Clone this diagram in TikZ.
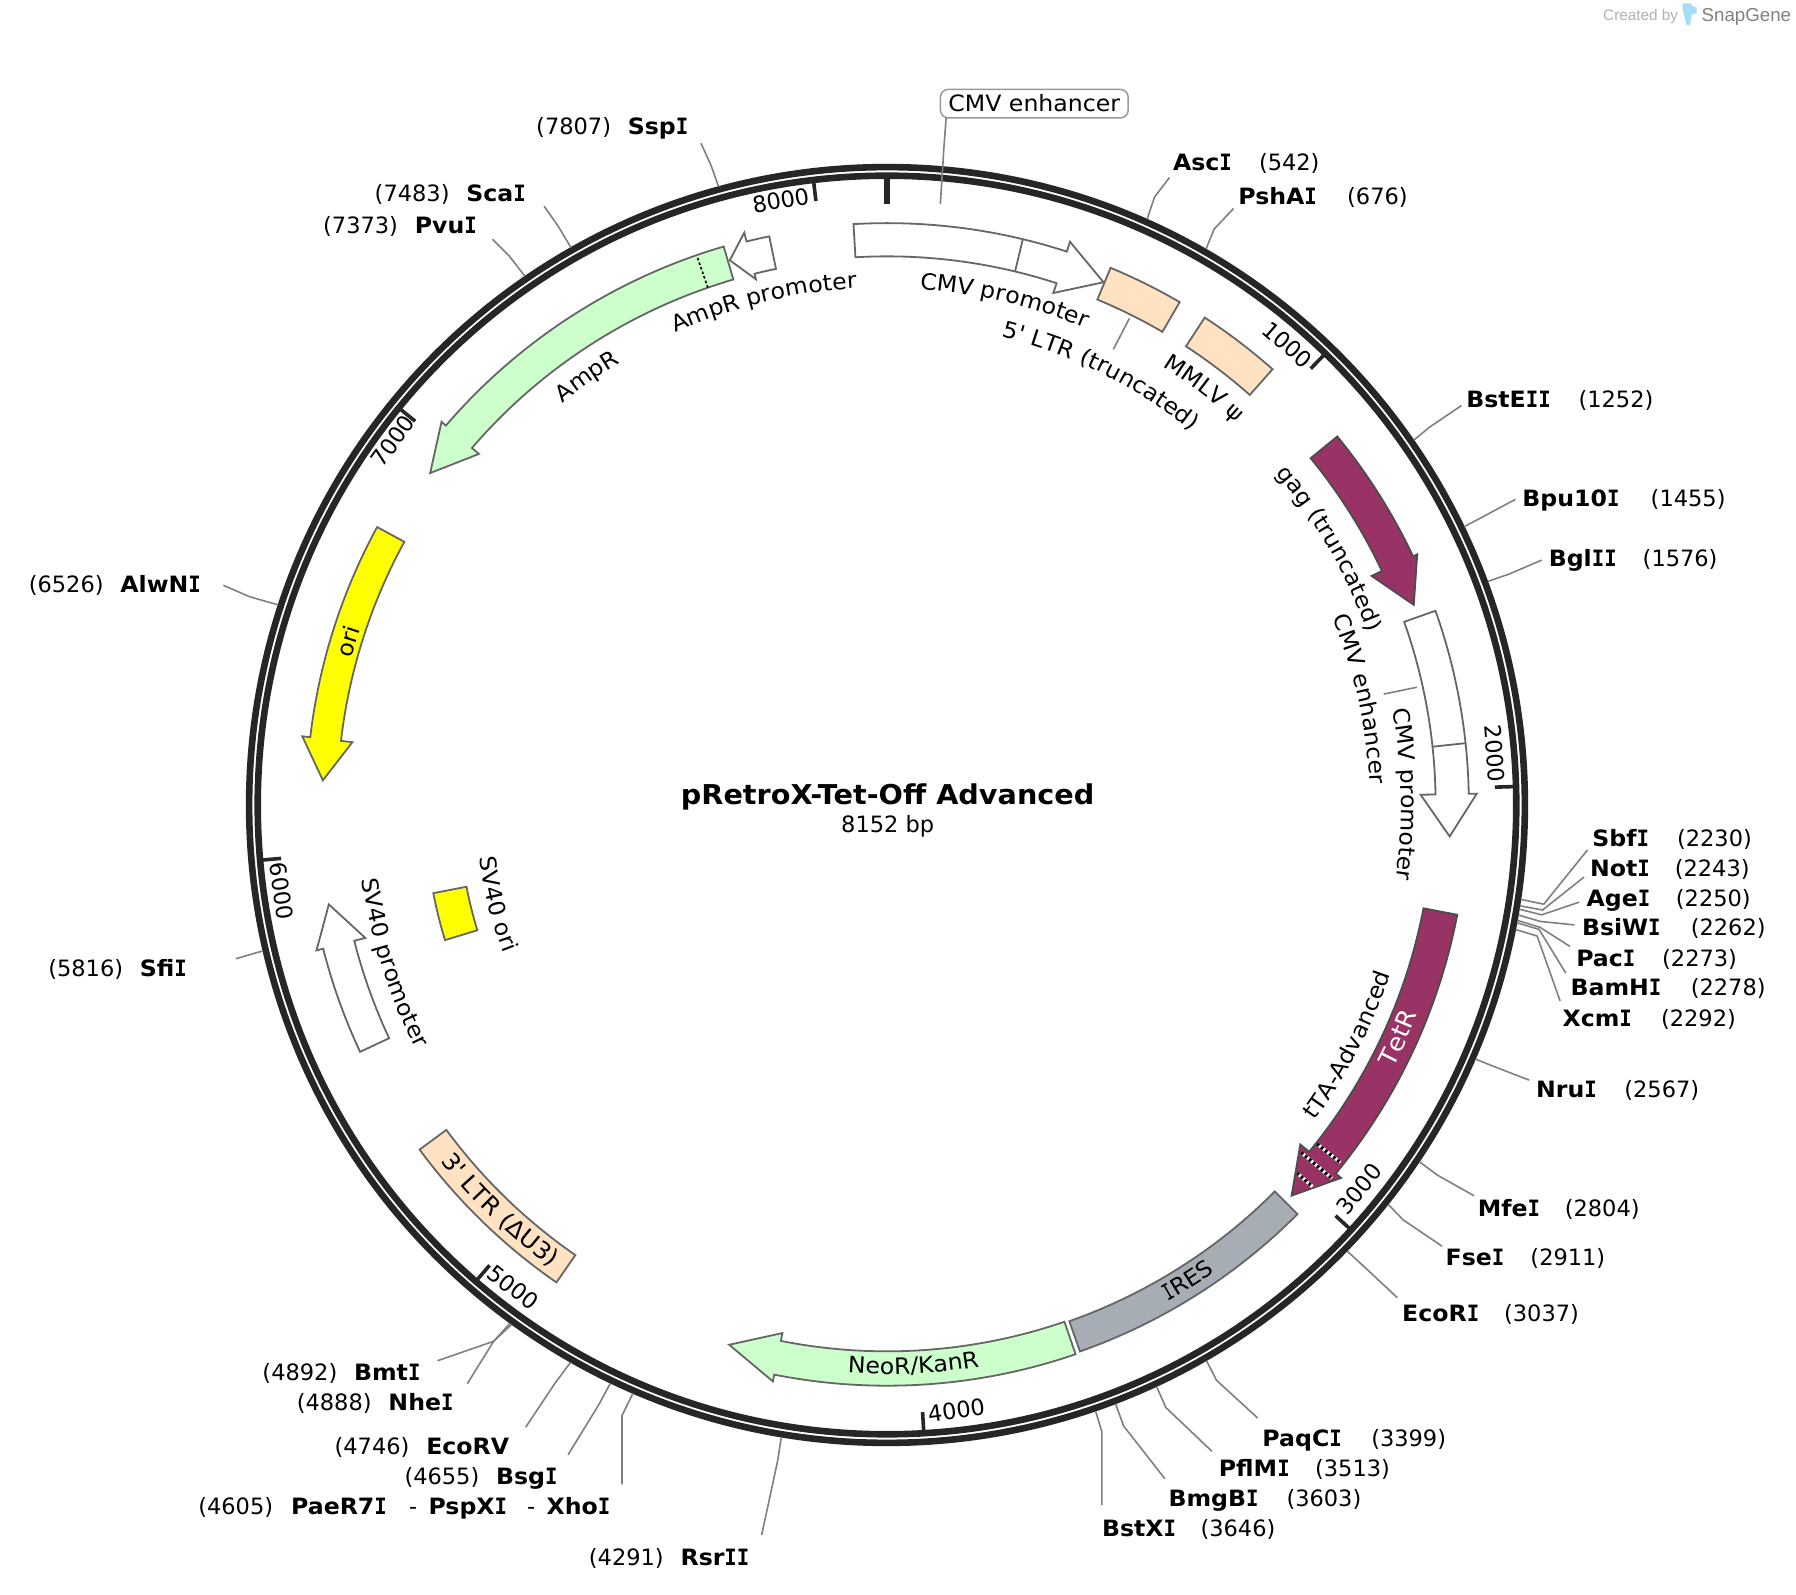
\documentclass[tikz,border=0pt]{standalone}
\usepackage{fontspec}
\usetikzlibrary{decorations.text}
\newfontfamily\tf{DejaVu Sans}
\newfontfamily\tfw{DejaVu Sans}[FakeStretch=1.05]
\newfontfamily\bmono{DejaVu Sans Mono}[FakeStretch=0.92]
\newfontfamily\rmono{DejaVu Sans Mono}[FakeStretch=0.72]
\newfontfamily\lf{Liberation Sans}
\newcommand\labfont{\tfw\fontsize{22.5}{27}\selectfont}
\newcommand\Ib{{\bmono\bfseries I}}
\definecolor{magen}{HTML}{993366}
\definecolor{grn}{HTML}{CCFFCC}
\definecolor{peach}{HTML}{FFE2C2}
\definecolor{irescol}{HTML}{A6ADB4}
\definecolor{ring}{HTML}{262626}
\definecolor{yel}{rgb}{1,1,0}
\definecolor{logo}{HTML}{A5DCF9}
\tikzset{
  disp/.style={shift={(-774.4,702.8)},yscale=-1},
  lab/.style={font=\tf\fontsize{22.5}{27}\selectfont,inner sep=0pt,text height=18pt,text depth=1.6pt},
  wlab/.style={lab,font=\labfont},
  blab/.style={lab,font=\tfw\bfseries\fontsize{22.5}{27}\selectfont},
  leader/.style={draw=black!50,line width=1.6pt},
  fwhite/.style={draw=black!60,line width=1.8pt,fill=white,line join=miter},
  fgreen/.style={fwhite,fill=grn},
  fpeach/.style={fwhite,fill=peach},
  fyellow/.style={fwhite,fill=yel},
  fgrey/.style={fwhite,fill=irescol},
  fmag/.style={draw=black!70,line width=1.8pt,fill=magen},
  sep/.style={draw=black!60,line width=1.8pt},
  tickmark/.style={draw=ring,line width=3.6pt},
  band/.style={line width=3.4pt}
}
% rectangle on the arc: style, angle0, angle1, r inner, r outer
\newcommand\featrect[5]{\draw[#1] ({90-(#2)}:#5) arc[start angle={90-(#2)},end angle={90-(#3)},radius=#5] -- ({90-(#3)}:#4) arc[start angle={90-(#3)},end angle={90-(#2)},radius=#4] -- cycle;}
% arrow on the arc: style, angle0, head base angle, tip angle, r in, r out, flare out, flare in, r tip
\newcommand\featarrow[9]{\draw[#1] ({90-(#2)}:#6) arc[start angle={90-(#2)},end angle={90-(#3)},radius=#6] -- ({90-(#3)}:#7) -- ({90-(#4)}:#9) -- ({90-(#3)}:#8) -- ({90-(#3)}:#5) arc[start angle={90-(#3)},end angle={90-(#2)},radius=#5] -- cycle;}
\newcommand\radial[4]{\draw[#1] ({90-(#2)}:#3) -- ({90-(#2)}:#4);}
% text on an arc, reading clockwise or counter-clockwise: centre angle, baseline radius, text
\newcommand\cwtext[3]{\path[decorate,decoration={text along path,text align=center,text={#3}}] ({90-(#1)+40}:#2) arc[start angle={90-(#1)+40},end angle={90-(#1)-40},radius=#2];}
\newcommand\ccwtext[3]{\path[decorate,decoration={text along path,text align=center,text={#3}}] ({90-(#1)-40}:#2) arc[start angle={90-(#1)-40},end angle={90-(#1)+40},radius=#2];}
% site leader: name, bp, elbow, end
\newcommand\site[6]{\coordinate (#1r) at ({90-(#2)/8152*360}:559.6);
  \begin{scope}[disp]\coordinate (#1e) at (#3,#4);\coordinate (#1f) at (#5,#6);\end{scope}
  \draw[leader] (#1r) -- (#1e) -- (#1f);}
% site label: enzyme, x, number, x, y
\newcommand\sitelab[5]{\node[blab,anchor=west] (s#3) at (#2,#5) {#1};\node[lab,anchor=west] (n#3) at (#4,#5) {(#3)};}
\newcommand\txt[5]{\node[lab,rotate=#2] (#1) at (#3,#4) {#5};}
\newcommand\tk[1]{\draw[tickmark] ({90-(#1)/8152*360}:546.8) -- ({90-(#1)/8152*360}:531);}
\begin{document}
\begin{tikzpicture}[x=1.14541pt,y=1.14541pt]
\path[use as bounding box,fill=white] (-774.4,702.8) rectangle (793.6,-688.85);
% ring
\coordinate (c) at (0,0);
\draw[draw=ring,line width=6.6pt] (c) circle[radius=556.9];
\draw[draw=ring,line width=6.6pt] (c) circle[radius=549.4];
\draw[draw=ring,line width=6.6pt] (90:546.8) -- (90:525);
\foreach \bpv in {1000,2000,...,8000}{\tk{\bpv}}
% leaders
\site{SspI}{7807}{621}{145}{612}{125}
\site{ScaI}{7483}{487}{197}{475}{180}
\site{PvuI}{7373}{445}{224}{430}{209}
\site{AlwNI}{6526}{218}{521}{195}{511}
\site{SfiI}{5816}{218}{833.5}{206}{837}
\site{BmtI}{4892}{431}{1171}{382}{1188}
\site{NheI}{4888}{431}{1171}{408}{1208}
\site{EcoRV}{4746}{485}{1207}{459}{1246}
\site{BsgI}{4655}{523}{1226}{496}{1270}
\site{XhoI}{4605}{543}{1236}{543}{1296}
\site{RsrII}{4291}{679}{1275}{665}{1340}
\site{BstXI}{3646}{962}{1250}{962}{1314}
\site{BmgBI}{3603}{981}{1245}{1017}{1291}
\site{PflMI}{3513}{1018}{1229}{1058}{1267}
\site{PaqCI}{3399}{1062}{1205}{1098}{1238}
\site{EcoRI}{3037}{1190}{1105}{1220}{1133}
\site{FseI}{2911}{1225}{1065}{1259}{1088}
\site{MfeI}{2804}{1255}{1026}{1287}{1044}
\site{NruI}{2567}{1304}{931}{1335}{943}
\site{XcmI}{2292}{1342}{817.2}{1362}{873.8}
\site{BamHI}{2278}{1343.7}{811.4}{1367}{849.6}
\site{PacI}{2273}{1344.5}{809.6}{1370.7}{826.3}
\site{BsiWI}{2262}{1345}{804.5}{1374.6}{807.5}
\site{AgeI}{2250}{1346}{798.7}{1378.7}{787.6}
\site{NotI}{2243}{1346.7}{794.5}{1383}{765.7}
\site{SbfI}{2230}{1347.8}{789.4}{1386}{742}
\site{BglII}{1576}{1318}{501}{1346}{489}
\site{BpuI}{1455}{1295}{451}{1323}{436}
\site{BstEII}{1252}{1248}{373}{1276}{354}
\site{PshAI}{676}{1060}{200}{1077}{182}
\site{AscI}{542}{1008}{172}{1021}{155}
% features
\featarrow{fwhite}{-3.3}{18}{22.5}{479}{508}{517}{470}{494}
\radial{sep}{13.5}{479}{508}
\featrect{fpeach}{22.6}{30.2}{478}{508}
\featrect{fpeach}{33.1}{41.5}{478}{508}
\featarrow{fmag}{50.7}{64.7}{69.2}{478}{508}{512}{468}{492}
\featarrow{fwhite}{70.5}{88.9}{93.2}{479}{508}{515}{466}{492}
\radial{sep}{83.9}{479}{508}
\featarrow{fmag}{100.9}{129.4}{134}{477}{507}{513}{467}{491}
\draw[band,white] (90-128.25:478) -- (90-128.25:504);
\draw[band,black,dash pattern=on 2.6pt off 2.6pt] (90-128.25:478) -- (90-128.25:504);
\draw[band,white] (90-130:472) -- (90-130:507);
\draw[band,black,dash pattern=on 2.6pt off 2.6pt] (90-130:472) -- (90-130:507);
\draw[band,white] (90-131.9:481) -- (90-131.9:499);
\draw[band,black,dash pattern=on 2.6pt off 2.6pt] (90-131.9:481) -- (90-131.9:499);
\featrect{fgrey}{134.9}{160.55}{478}{506}
\featarrow{fgreen}{161.05}{191.2}{196.3}{477}{507}{513}{470}{491}
\featrect{fpeach}{214.7}{233.6}{478}{507}
\featarrow{fwhite}{244.9}{255.7}{259.9}{480}{508}{514}{470}{495}
\featrect{fyellow}{253}{259}{374}{403.5}
\featarrow{fyellow}{298.6}{276.7}{272.5}{480}{507}{514}{470}{493}
\featarrow{fgreen}{343.7}{310.7}{306}{478}{508}{513}{470}{493}
\radial{draw=black,line width=1.6pt,dash pattern=on 2.6pt off 2.2pt}{340.9}{478}{507}
\featarrow{fwhite}{348.3}{346}{343.9}{478}{507}{515}{473}{495}
% feature labels on arcs
\cwtext{13.1}{451}{|\labfont|CMV promoter}
\cwtext{26.5}{421}{|\labfont|5' LTR (truncated)}
\cwtext{37.3}{452}{|\labfont|MMLV ψ}
\cwtext{59.9}{446}{|\labfont|gag (truncated)}
\cwtext{77.4}{422}{|\labfont|CMV enhancer}
\cwtext{88.8}{449}{|\labfont|CMV promoter}
\ccwtext{117.5}{464}{|\labfont|tTA-Advanced}
\ccwtext{114.5}{498}{|\color{white}\tfw\fontsize{24.5}{29}\selectfont|TetR}
\ccwtext{147.7}{498}{|\rmono\fontsize{22.5}{27}\selectfont|I|\labfont|RES}
\ccwtext{177.3}{497}{|\labfont|NeoR/KanR}
\ccwtext{223.7}{499}{|\tfw\fontsize{23.5}{27}\selectfont|3' LTR (ΔU3)}
\ccwtext{252.3}{463}{|\labfont|SV40 promoter}
\ccwtext{255.7}{359}{|\labfont|SV40 ori}
\cwtext{286.9}{485}{|\labfont|ori}
\cwtext{325}{451}{|\labfont|AmpR}
\cwtext{346.25}{452}{|\labfont|AmpR promoter}
\begin{scope}[disp]
% feature leaders
\coordinate (a1) at (821,178);\coordinate (a2) at (824,130);
\node[wlab,draw=black!40,line width=1.5pt,rounded corners=8pt,minimum width=187.8pt,minimum height=28.6pt] (boxcmv) at (903,90.5) {CMV enhancer};
\draw[leader] (a1) -- (a2) -- (826,103) coordinate (a3);
\coordinate (b1) at (986,278);\coordinate (b2) at (972,305);\draw[leader] (b1) -- (b2);
\coordinate (d1) at (1237,600);\coordinate (d2) at (1208,606);\draw[leader] (d1) -- (d2);
% scale numbers
\txt{t1}{-41}{1124}{301}{1000}
\txt{t2}{-85}{1305}{658}{2000}
\txt{t3}{51}{1187}{1038}{3000}
\txt{t4}{8}{835}{1231}{4000}
\txt{t5}{-38}{448}{1124}{5000}
\txt{t6}{-82}{246}{778}{6000}
\txt{t7}{54}{343}{385}{7000}
\txt{t8}{10}{682}{175}{8000}
% title
\node[blab,font=\tfw\bfseries\fontsize{27.3}{32}\selectfont,text height=22pt,text depth=2pt] (title) at (775,694) {pRetroX-Tet-Off Advanced};
\node[lab] (size) at (775,720) {8152 bp};
% sites
\sitelab{Ssp\Ib}{548}{7807}{468}{110}
\sitelab{Sca\Ib}{407}{7483}{327}{169}
\sitelab{Pvu\Ib}{362}{7373}{282}{197}
\sitelab{AlwN\Ib}{105}{6526}{25}{510}
\sitelab{Sfi\Ib}{122}{5816}{42}{845}
\sitelab{Bmt\Ib}{309}{4892}{229}{1198}
\sitelab{Nhe\Ib}{339}{4888}{259}{1224}
\sitelab{EcoRV}{372}{4746}{292}{1263}
\sitelab{Bsg\Ib}{433}{4655}{353}{1289}
\sitelab{PaeR7\Ib}{254}{4605}{173}{1315}
\node[lab,anchor=west] (d1t) at (357,1315) {-};
\node[blab,anchor=west] (sPspXI) at (374,1315) {PspX\Ib};
\node[lab,anchor=west] (d2t) at (460,1315) {-};
\node[blab,anchor=west] (sXhoI) at (477,1315) {Xho\Ib};
\sitelab{Rsr\Ib\Ib}{594}{4291}{514}{1360}
\sitelab{BstX\Ib}{962}{3646}{1048}{1334}
\sitelab{BmgB\Ib}{1020}{3603}{1123}{1308}
\sitelab{PflM\Ib}{1064}{3513}{1148}{1282}
\sitelab{PaqC\Ib}{1102}{3399}{1197}{1256}
\sitelab{EcoR\Ib}{1224}{3037}{1313}{1147}
\sitelab{Fse\Ib}{1262}{2911}{1336}{1098}
\sitelab{Mfe\Ib}{1290}{2804}{1366}{1055}
\sitelab{Nru\Ib}{1341}{2567}{1418}{951}
\sitelab{Xcm\Ib}{1364}{2292}{1450}{889}
\sitelab{BamH\Ib}{1371}{2278}{1476}{862}
\sitelab{Pac\Ib}{1376}{2273}{1451}{837}
\sitelab{BsiW\Ib}{1381}{2262}{1476}{810}
\sitelab{Age\Ib}{1385}{2250}{1463}{784}
\sitelab{Not\Ib}{1388}{2243}{1462}{758}
\sitelab{Sbf\Ib}{1390}{2230}{1464}{732}
\sitelab{Bgl\Ib\Ib}{1352}{1576}{1434}{487}
\sitelab{Bpu10\Ib}{1329}{1455}{1441}{435}
\sitelab{BstE\Ib\Ib}{1280}{1252}{1378}{349}
\sitelab{PshA\Ib}{1081}{676}{1176}{171}
\sitelab{Asc\Ib}{1024}{542}{1099}{142}
% credit
\node[inner sep=0pt,anchor=west,text=black!30,font=\lf\fontsize{15.3}{18}\selectfont] (cred) at (1399.5,14.5) {Created by};
\node[inner sep=0pt,anchor=west,text=black!50,font=\lf\fontsize{18.7}{22}\selectfont] (snap) at (1485.5,14.5) {SnapGene};
\fill[logo] (1469,3) -- (1476.5,3) -- (1477,5) -- (1481.3,6.5) -- (1481.3,11.5) -- (1477,12.5) -- (1475.5,22) -- (1472.5,22) -- (1469,8) -- cycle;
\end{scope}
\end{tikzpicture}
\end{document}
